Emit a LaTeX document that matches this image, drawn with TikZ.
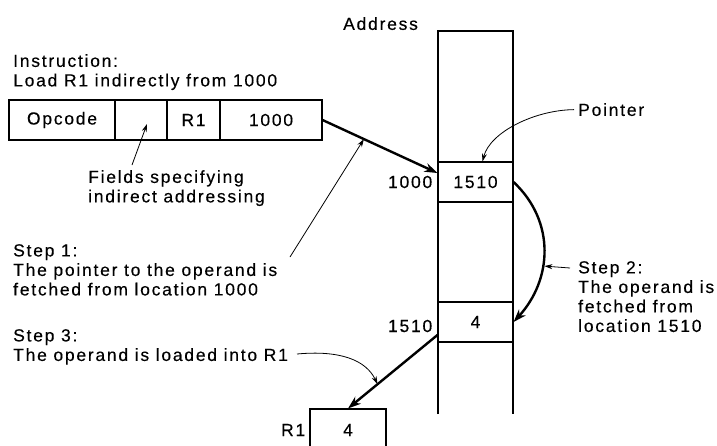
\documentclass[tikz,border=0pt]{standalone}
\usepackage{fontspec}
\setmainfont{Liberation Sans}[LetterSpace=10,FakeBold=0.3]
\usetikzlibrary{arrows.meta,calc}
\tikzset{
 txt/.style={font=\fontsize{17.5}{19.5}\selectfont,inner sep=0pt,align=left},
 cell/.style={draw,line width=1.1pt,minimum height=40pt,inner sep=0pt,
   font=\fontsize{17.5}{19.5}\selectfont},
 arr/.style={-{Stealth[length=13pt,width=9pt]},line width=2.4pt},
 note/.style={-{Stealth[length=8pt,width=5pt]},line width=0.8pt}
}
\begin{document}
\begin{tikzpicture}[x=1pt,y=-1pt]
\useasboundingbox[fill=white] (0,0) rectangle (717,445);
% instruction word
\node[txt,anchor=north west] (ins) at (13,54) {Instruction:\\Load R1 indirectly from 1000};
\node[cell,minimum width=106pt] (opc) at (62,120) {Opcode};
\node[cell,minimum width=52pt] (ind) at (141,120) {};
\node[cell,minimum width=53pt] (reg) at (193.5,120) {R1};
\node[cell,minimum width=102pt] (adr) at (271,120) {1000};
\node[txt,anchor=north west] (fld) at (88,170) {Fields specifying\\indirect addressing};
% memory
\node[txt,anchor=north west] (addr) at (343,17) {Address};
\draw[line width=1.1pt] (438,414) -- (438,31) -- (513,31) -- (513,414);
\node[cell,minimum width=75pt] (ptr) at (475.5,182) {1510};
\node[cell,minimum width=75pt] (opnd) at (475.5,322) {4};
\node[txt,anchor=east] (a1000) at ([xshift=-5pt]ptr.west) {1000};
\node[txt,anchor=east] (a1510) at ([xshift=-5pt,yshift=-4pt]opnd.west) {1510};
\node[cell,minimum width=76pt,minimum height=42pt] (r1) at (348,430) {4};
\node[txt,anchor=east] (r1lbl) at ([xshift=-4pt]r1.west) {R1};
% notes
\node[txt,anchor=north west] (ptrlbl) at (578,103) {Pointer};
\node[txt,anchor=north west] (s1) at (13,244) {Step 1:\\The pointer to the operand is\\fetched from location 1000};
\node[txt,anchor=north west] (s2) at (578,261) {Step 2:\\The operand is\\fetched from\\location 1510};
\node[txt,anchor=north west] (s3) at (13,329) {Step 3:\\The operand is loaded into R1};
\coordinate (ptrin) at ([yshift=9pt]ptr.west);
\coordinate (opout) at ([yshift=-13pt]opnd.west);
\coordinate (fldfrom) at (132,165);
\coordinate (s1from) at (290,257);
\coordinate (s2from) at (570,268);
\coordinate (s3from) at (297,354);
% data flow
\draw[arr] (adr.east) -- (ptrin) coordinate[pos=0.36] (s1tip);
\draw[arr] (ptr.east) .. controls (556,222) and (552,280) .. (opnd.east) coordinate[pos=0.6] (bend);
\draw[arr] (opout) -- (r1.north) coordinate[pos=0.67] (s3tip);
\draw[note] (fldfrom) -- ($(ind.center)+(6,4)$);
\draw[note] ([xshift=-4pt]ptrlbl.west) .. controls (535,110) and (490,132) .. ([xshift=7pt]ptr.north);
\draw[note] (s1from) -- (s1tip);
\draw[note] (s2from) -- ([xshift=2pt]bend);
\draw[note] (s3from) .. controls (340,350) and (366,360) .. (s3tip);
\end{tikzpicture}
\end{document}
